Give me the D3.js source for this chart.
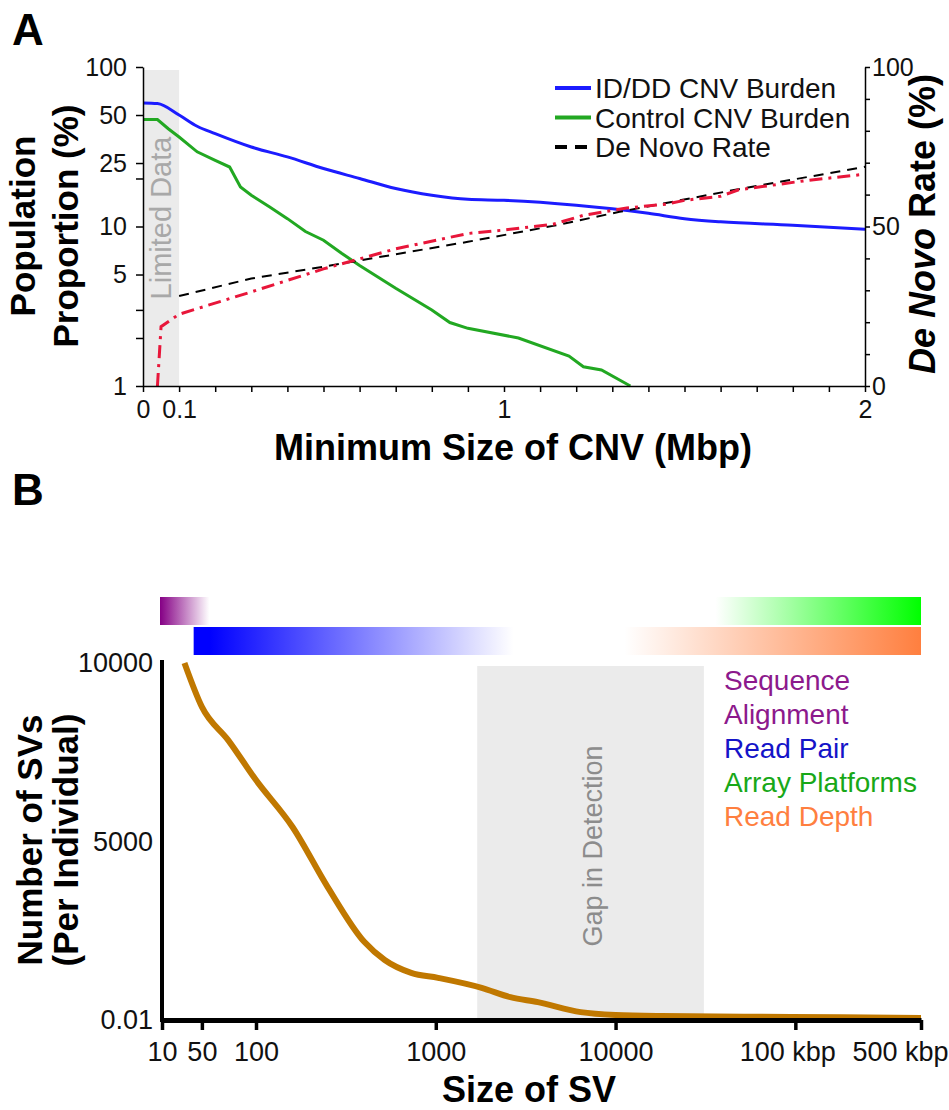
<!DOCTYPE html>
<html>
<head>
<meta charset="utf-8">
<script src="https://cdn.jsdelivr.net/npm/d3@7"></script>
<style>
  body { margin: 0; background: #fff; }
  text { font-family: Arial, "Liberation Sans", Helvetica, sans-serif; }
</style>
</head>
<body>
<div id="chart"></div>
<script>
// ---------- panel A data (min CNV size in Mbp) ----------
const iddBurden = [[0,59.5],[0.04,59],[0.1,50],[0.15,42.5],[0.2,38.2],[0.3,31.5],[0.4,27.3],[0.5,23.1],[0.6,20],[0.7,17.3],[0.8,15.7],[0.9,14.8],[1.0,14.6],[1.2,13.6],[1.3,12.9],[1.4,12.1],[1.5,11.2],[1.6,10.7],[1.8,10.2],[2.0,9.6]]
const controlBurden = [[0,46.8],[0.04,46.8],[0.07,41],[0.1,36.4],[0.15,29.4],[0.2,26],[0.24,23.6],[0.27,17.7],[0.3,15.7],[0.35,13.3],[0.4,11.2],[0.45,9.3],[0.5,8.2],[0.55,6.8],[0.6,5.7],[0.7,4.1],[0.8,3.0],[0.85,2.5],[0.9,2.3],[1.04,2.0],[1.18,1.54],[1.22,1.32],[1.27,1.26],[1.35,1.0]]
const deNovoFit = [[0.1,28.2],[0.3,33.7],[0.5,37.4],[0.9,45.2],[1.136,50.2],[1.32,54.6],[1.645,61.6],[2.0,68.7]]
const deNovoObs = [[0.04,0],[0.05,18.6],[0.1,22.5],[0.3,29.5],[0.5,36.7],[0.7,43],[0.9,47.8],[1.0,48.9],[1.136,50.7],[1.22,53.5],[1.34,55.8],[1.45,57],[1.5,58.2],[1.6,59.5],[1.65,61.5],[1.83,64.3],[2.0,66.4]]

const cnvTickLabels = [0, 0.1, 1, 2]
const burdenTicks = [1, 2, 3, 5, 10, 20, 25, 50, 100]
const burdenTickLabels = [1, 5, 10, 25, 50, 100]
const rateTickLabels = [0, 50, 100]
const limitedData = [0, 0.1]

const legendA = ["ID/DD CNV Burden", "Control CNV Burden", "De Novo Rate"]

// ---------- panel B data (SV size in bp) ----------
const svCount = [[40,10000],[50,8770],[70,7840],[100,6720],[160,5400],[250,3730],[400,2190],[520,1680],[730,1320],[1030,1180],[1800,900],[2600,640],[3700,500],[6400,220],[10000,140],[18000,110],[95000,85],[500000,55]]
const svSizeTicks = [30, 50, 100, 1000, 10000, 100000, 500000]
const svSizeLabels = ["10", "50", "100", "1000", "10000", "100 kbp", "500 kbp"]
const svCountTicks = [0.01, 5000, 10000]
const gapInDetection = [1700, 31000]

const methodStart = [30, 45, 36000, 11200]
const methodEnd = [55, 2700, 500000, 500000]
const methodRow = [0, 1, 0, 1]
const methodColors = ["#850085", "#0000ff", "#00ff00", "#ff7f3f"]
const methodFadeLeft = [false, false, true, true]

const legendB = ["Sequence", "Alignment", "Read Pair", "Array Platforms", "Read Depth"]
const legendBColors = ["#8c198c", "#8c198c", "#1414c8", "#18a818", "#ff7f3f"]

// ---------- svg ----------
const W = 949, H = 1110
const svg = d3.select("#chart").append("svg")
  .attr("width", W).attr("height", H)
  .style("display", "block")

svg.append("rect").attr("width", W).attr("height", H).attr("fill", "#fff")

const defs = svg.append("defs")

// =================== PANEL A ===================
const xA = d3.scaleLinear().domain([0, 2]).range([143, 865])
const yA = d3.scaleLog().domain([1, 100]).range([386, 67])
const yR = d3.scaleLinear().domain([0, 100]).range([386, 67])

svg.append("text").attr("x", 12).attr("y", 45)
  .attr("font-size", 44).attr("font-weight", "bold").text("A")

// limited data band
svg.append("rect")
  .attr("x", xA(limitedData[0])).attr("y", yA(100) + 3)
  .attr("width", xA(limitedData[1]) - xA(limitedData[0]))
  .attr("height", yA(1) - yA(100) - 3)
  .attr("fill", "#ebebeb")

svg.append("text")
  .attr("transform", `translate(${(xA(limitedData[0]) + xA(limitedData[1])) / 2 + 10},218) rotate(-90)`)
  .attr("text-anchor", "middle").attr("font-size", 29).attr("fill", "#a8a8a8")
  .text("Limited Data")

const lineL = d3.line().x(d => xA(d[0])).y(d => yA(d[1]))
const smoothL = d3.line().x(d => xA(d[0])).y(d => yA(d[1])).curve(d3.curveMonotoneX)
const lineR = d3.line().x(d => xA(d[0])).y(d => yR(d[1]))

svg.append("path").datum(controlBurden).attr("d", lineL)
  .attr("fill", "none").attr("stroke", "#22a822").attr("stroke-width", 3)
svg.append("path").datum(iddBurden).attr("d", smoothL)
  .attr("fill", "none").attr("stroke", "#1c1cff").attr("stroke-width", 3)
svg.append("path").datum(deNovoFit).attr("d", lineR)
  .attr("fill", "none").attr("stroke", "#000").attr("stroke-width", 2)
  .attr("stroke-dasharray", "10,7")
svg.append("path").datum(deNovoObs).attr("d", lineR)
  .attr("fill", "none").attr("stroke", "#e8163a").attr("stroke-width", 3)
  .attr("stroke-dasharray", "13,6,3,6")

// axes A
const styleAxis = (g, size, sw) => {
  g.selectAll("path.domain").attr("stroke", "#000").attr("stroke-width", sw)
  g.selectAll(".tick line").attr("stroke", "#000").attr("stroke-width", sw)
  g.selectAll(".tick text").attr("font-size", size).attr("fill", "#111")
    .attr("font-family", 'Arial, "Liberation Sans", sans-serif')
}

const same = (a, b) => Math.abs(a - b) < 1e-9

svg.append("g").attr("transform", `translate(0,${yA(1)})`)
  .call(d3.axisBottom(xA).tickValues(xA.ticks(20)).tickSize(6).tickPadding(8).tickSizeOuter(0)
    .tickFormat(d => cnvTickLabels.some(v => same(v, d)) ? d3.format("~g")(d) : ""))
  .call(g => styleAxis(g, 25, 1.5))

svg.append("g").attr("transform", `translate(${xA(0)},0)`)
  .call(d3.axisLeft(yA).tickValues(burdenTicks).tickSize(7).tickPadding(9).tickSizeOuter(0)
    .tickFormat(d => burdenTickLabels.includes(d) ? d : ""))
  .call(g => styleAxis(g, 25, 1.5))

svg.append("g").attr("transform", `translate(${xA(2)},0)`)
  .call(d3.axisRight(yR).ticks(10).tickSize(5).tickPadding(2).tickSizeOuter(0)
    .tickFormat(d => rateTickLabels.includes(d) ? d : ""))
  .call(g => styleAxis(g, 25, 1.5))

// titles A
svg.append("text").attr("x", 513).attr("y", 460).attr("text-anchor", "middle")
  .attr("font-size", 36).attr("font-weight", "bold").text("Minimum Size of CNV (Mbp)")

const yTitleA = svg.append("text").attr("transform", "translate(0,226) rotate(-90)")
  .attr("text-anchor", "middle").attr("font-size", 35).attr("font-weight", "bold")
yTitleA.append("tspan").attr("x", 0).attr("y", 35).text("Population")
yTitleA.append("tspan").attr("x", 0).attr("y", 78).text("Proportion (%)")

const rTitle = svg.append("text").attr("transform", "translate(935,224) rotate(-90)")
  .attr("text-anchor", "middle").attr("font-size", 36).attr("font-weight", "bold")
rTitle.append("tspan").attr("font-style", "italic").text("De Novo")
rTitle.append("tspan").text(" Rate (%)")

// legend A
const legA = svg.append("g")
const legStyles = [
  { stroke: "#1c1cff", dash: null },
  { stroke: "#22a822", dash: null },
  { stroke: "#000", dash: "12,8" }
]
legendA.forEach((t, i) => {
  const y = 88 + i * 29.5
  legA.append("line").attr("x1", 555).attr("x2", 591).attr("y1", y).attr("y2", y)
    .attr("stroke", legStyles[i].stroke).attr("stroke-width", 4)
    .attr("stroke-dasharray", legStyles[i].dash)
  legA.append("text").attr("x", 595).attr("y", y + 10)
    .attr("font-size", 28).attr("fill", "#111").text(t)
})

// =================== PANEL B ===================
const xB = d3.scaleLog().domain([30, 500000]).range([162, 921])
const yB = d3.scaleLinear().domain([0, 10000]).range([1020, 663])

svg.append("text").attr("x", 12).attr("y", 505)
  .attr("font-size", 44).attr("font-weight", "bold").text("B")

// method bars with gradients
methodStart.forEach((s, i) => {
  const id = "grad" + i
  const gr = defs.append("linearGradient").attr("id", id)
    .attr("x1", "0").attr("x2", "1").attr("y1", "0").attr("y2", "0")
  if (methodFadeLeft[i]) {
    gr.append("stop").attr("offset", 0).attr("stop-color", "#fff")
    gr.append("stop").attr("offset", 1).attr("stop-color", methodColors[i])
  } else {
    gr.append("stop").attr("offset", 0).attr("stop-color", methodColors[i])
    gr.append("stop").attr("offset", i === 1 ? 0.05 : 0).attr("stop-color", methodColors[i])
    gr.append("stop").attr("offset", 1).attr("stop-color", "#fff")
  }
  svg.append("rect")
    .attr("x", i === 0 ? xB(s) - 2 : xB(s))
    .attr("y", 597 + methodRow[i] * 30)
    .attr("width", xB(methodEnd[i]) - xB(s) + (i === 0 ? 2 : 0))
    .attr("height", 28)
    .attr("fill", `url(#${id})`)
})

// gap in detection
svg.append("rect")
  .attr("x", xB(gapInDetection[0])).attr("y", yB(10000) + 3)
  .attr("width", xB(gapInDetection[1]) - xB(gapInDetection[0]))
  .attr("height", yB(0) - yB(10000) - 3)
  .attr("fill", "#ebebeb")

svg.append("text")
  .attr("transform", `translate(${(xB(gapInDetection[0]) + xB(gapInDetection[1])) / 2 + 11},846) rotate(-90)`)
  .attr("text-anchor", "middle").attr("font-size", 27).attr("fill", "#8c8c8c")
  .text("Gap in Detection")

// curve
svg.append("path").datum(svCount)
  .attr("d", d3.line().x(d => xB(d[0])).y(d => yB(d[1])).curve(d3.curveMonotoneX))
  .attr("fill", "none").attr("stroke", "#c07800").attr("stroke-width", 6)

// axes B
const xAxisB = svg.append("g").attr("transform", `translate(0,${yB(0)})`)
  .call(d3.axisBottom(xB).tickValues(svSizeTicks).tickSize(10).tickPadding(12).tickSizeOuter(0)
    .tickFormat((d, i) => svSizeLabels[i]))
  .call(g => styleAxis(g, 27, 3.5))
xAxisB.select("path.domain").attr("stroke-width", 5)
xAxisB.selectAll(".tick text").filter((d, i) => i === svSizeTicks.length - 2).attr("x", -8)
xAxisB.selectAll(".tick text").filter((d, i) => i === svSizeTicks.length - 1)
  .attr("text-anchor", "end").attr("x", 27)

const yAxisB = svg.append("g").attr("transform", `translate(${xB(30)},0)`)
  .call(d3.axisLeft(yB).tickValues(svCountTicks).tickSize(0).tickPadding(9).tickSizeOuter(0)
    .tickFormat(d => d === 0.01 ? "0.01" : d))
  .call(g => styleAxis(g, 27, 4))
yAxisB.select("path.domain").attr("d", `M0,${yB(10000) - 3}V${yB(0) + 2}`)

// titles B
svg.append("text").attr("x", 529).attr("y", 1102).attr("text-anchor", "middle")
  .attr("font-size", 36).attr("font-weight", "bold").text("Size of SV")

const yTitleB = svg.append("text").attr("transform", "translate(0,840) rotate(-90)")
  .attr("text-anchor", "middle").attr("font-size", 35).attr("font-weight", "bold")
yTitleB.append("tspan").attr("x", 0).attr("y", 42).text("Number of SVs")
yTitleB.append("tspan").attr("x", 0).attr("y", 78).text("(Per Individual)")

// legend B
legendB.forEach((t, i) => {
  svg.append("text").attr("x", 724).attr("y", 690 + i * 34)
    .attr("font-size", 28).attr("fill", legendBColors[i]).text(t)
})
</script>
</body>
</html>
